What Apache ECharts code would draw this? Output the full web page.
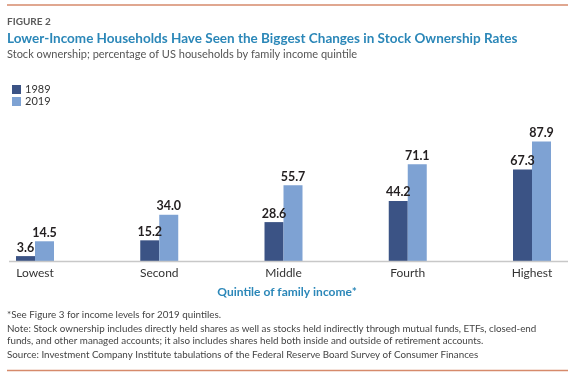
<!DOCTYPE html>
<html>
<head>
<meta charset="utf-8">
<script src="https://cdn.jsdelivr.net/npm/echarts@6/dist/echarts.min.js"></script>
<style>
  html, body { margin: 0; padding: 0; background: #fff; }
  #chart { width: 576px; height: 377px; }
</style>
</head>
<body>
<div id="chart"></div>
<script>
const quintiles = ["Lowest", "Second", "Middle", "Fourth", "Highest"];
const years = ["1989", "2019"];
const own1989 = [3.6, 15.2, 28.6, 44.2, 67.3];
const own2019 = [14.5, 34.0, 55.7, 71.1, 87.9];

const colors = ["#3b5385", "#7ea2d3"];
const font = "Lato";

const footnotes = [
  "*See Figure 3 for income levels for 2019 quintiles.",
  "Note: Stock ownership includes directly held shares as well as stocks held indirectly through mutual funds, ETFs, closed-end",
  "funds, and other managed accounts; it also includes shares held both inside and outside of retirement accounts.",
  "Source: Investment Company Institute tabulations of the Federal Reserve Board Survey of Consumer Finances"
];
const footY = [316, 330, 342, 356];

const chart = echarts.init(document.getElementById("chart"));

const barLabel = {
  show: true,
  position: "top",
  distance: 2,
  fontFamily: font,
  fontSize: 12.5,
  fontWeight: "bold",
  color: "#231f20",
  formatter: (p) => p.value.toFixed(1)
};

const graphics = [
  { type: "line", shape: { x1: 7, y1: 5, x2: 568, y2: 5 }, style: { stroke: "#d68a6b", lineWidth: 1.5 } },
  { type: "text", left: 7, top: 17, style: { text: "FIGURE 2", fontFamily: font, fontSize: 10, fontWeight: "bold", fill: "#5a5a5a" } },
  { type: "text", left: 7, top: 32, style: { text: "Lower-Income Households Have Seen the Biggest Changes in Stock Ownership Rates", fontFamily: font, fontSize: 13.5, fontWeight: "bold", fill: "#2b87b8" } },
  { type: "text", left: 7, top: 49, style: { text: "Stock ownership; percentage of US households by family income quintile", fontFamily: font, fontSize: 11, fill: "#555" } },
  { type: "line", shape: { x1: 9, y1: 261.5, x2: 568, y2: 261.5 }, style: { stroke: "#c8c8c8", lineWidth: 1.5 }, z: 10 },
  { type: "line", shape: { x1: 7, y1: 370.5, x2: 568, y2: 370.5 }, style: { stroke: "#d68a6b", lineWidth: 1.5 } }
];
footnotes.forEach((t, i) => {
  graphics.push({ type: "text", left: 7, top: footY[i] - 6, style: { text: t, fontFamily: font, fontSize: 9.8, fill: "#444" } });
});

chart.setOption({
  animation: false,
  textStyle: { fontFamily: font },
  legend: {
    data: years,
    orient: "vertical",
    left: 7,
    top: 79,
    itemWidth: 9,
    itemHeight: 9,
    itemGap: 1,
    icon: "rect",
    textStyle: { fontFamily: font, fontSize: 11, color: "#333", padding: [0, 0, 0, -1] }
  },
  grid: { left: 35, right: 44, top: 125, bottom: 116, containLabel: false },
  xAxis: {
    type: "category",
    data: quintiles,
    boundaryGap: false,
    axisLine: { show: false },
    axisTick: { show: false },
    axisLabel: { fontFamily: font, fontSize: 12, color: "#333", margin: 6 },
    name: "Quintile of family income*",
    nameLocation: "middle",
    nameGap: 25,
    nameTextStyle: { fontFamily: font, fontSize: 12, fontWeight: "bold", color: "#2b87b8", padding: [0, 0, 0, 7] }
  },
  yAxis: {
    type: "value",
    min: 0,
    max: 100,
    show: false,
    splitLine: { show: false }
  },
  series: [
    { name: years[0], type: "bar", data: own1989, barWidth: 19, barGap: "0%", itemStyle: { color: colors[0] }, label: barLabel },
    { name: years[1], type: "bar", data: own2019, barWidth: 19, barGap: "0%", itemStyle: { color: colors[1] }, label: barLabel }
  ],
  graphic: graphics
});
</script>
</body>
</html>
